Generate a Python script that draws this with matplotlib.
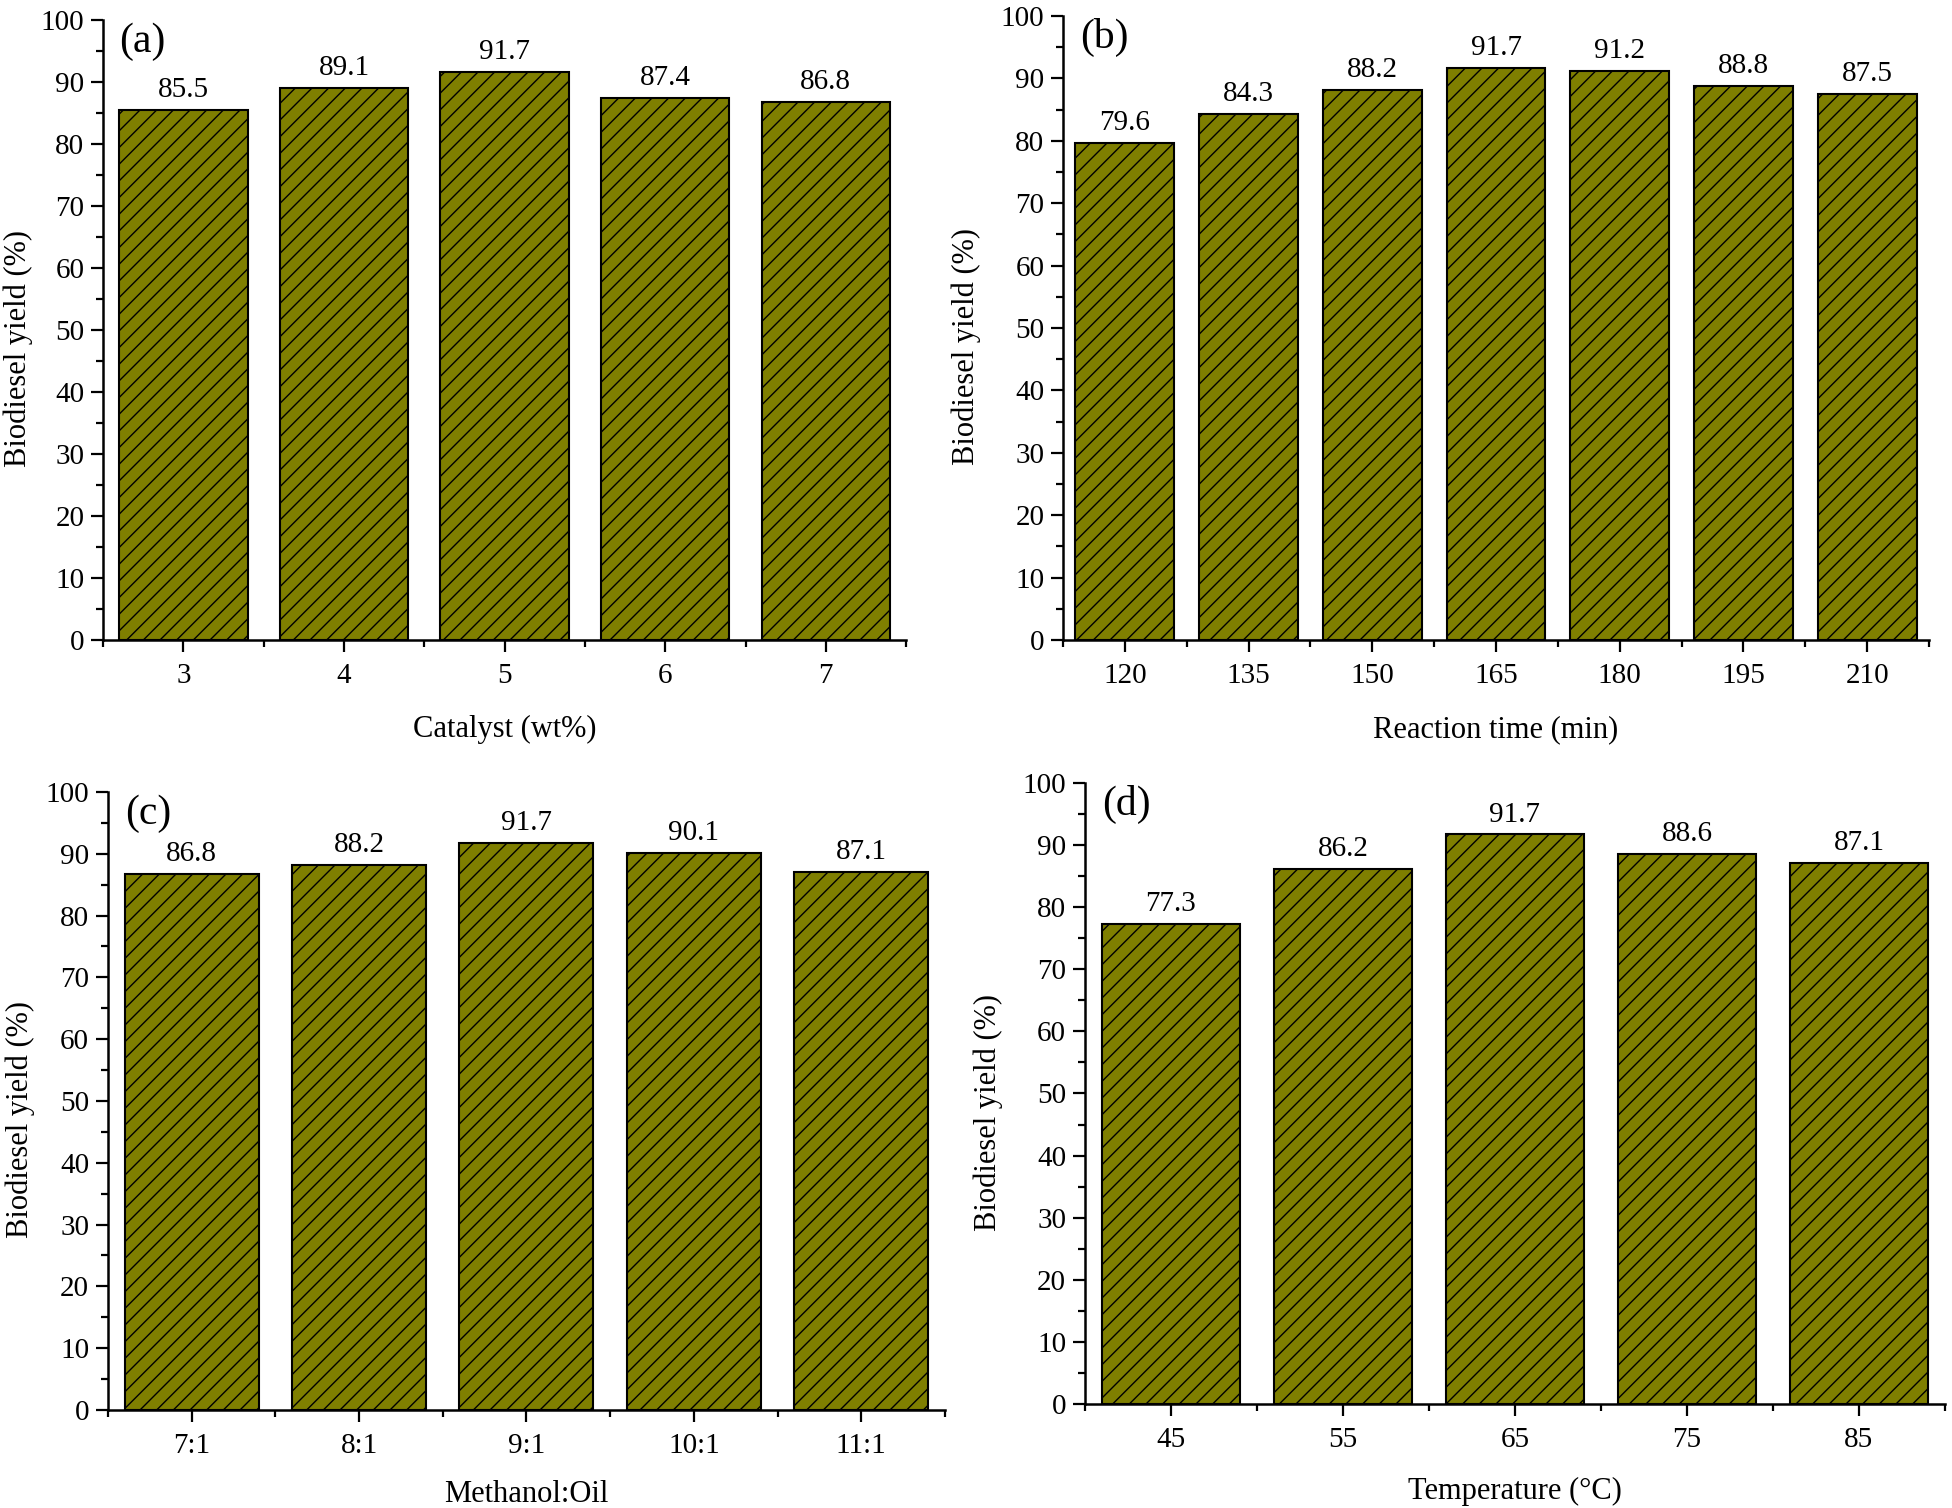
import matplotlib
matplotlib.use("Agg")
import matplotlib.pyplot as plt
from matplotlib.ticker import MultipleLocator, FixedLocator

plt.rcParams['font.family'] = ['Liberation Serif', 'DejaVu Serif']
plt.rcParams['hatch.linewidth'] = 1.0
plt.rcParams['hatch.color'] = 'black'

# data
catalyst = ['3', '4', '5', '6', '7']
catalyst_yield = [85.5, 89.1, 91.7, 87.4, 86.8]

time_min = ['120', '135', '150', '165', '180', '195', '210']
time_yield = [79.6, 84.3, 88.2, 91.7, 91.2, 88.8, 87.5]

ratio = ['7:1', '8:1', '9:1', '10:1', '11:1']
ratio_yield = [86.8, 88.2, 91.7, 90.1, 87.1]

temperature = ['45', '55', '65', '75', '85']
temperature_yield = [77.3, 86.2, 91.7, 88.6, 87.1]

BAR_COLOR = '#7f7f00'


def draw_panel(ax, cats, vals, xlabel, tag, ylab_x, xpad):
    n = len(cats)
    pos = list(range(n))
    ax.bar(pos, vals, width=0.8, color=BAR_COLOR, edgecolor='black',
           linewidth=1.5, hatch='//')
    for p, v in zip(pos, vals):
        ax.annotate('%.1f' % v, (p, v), xytext=(0, 5), textcoords='offset points',
                    ha='center', va='bottom', fontsize=21)

    ax.set_xlim(-0.5, n - 0.5)
    ax.set_ylim(0, 100)
    ax.set_xticks(pos)
    ax.set_xticklabels(cats)
    ax.xaxis.set_minor_locator(FixedLocator([i - 0.5 for i in range(n + 1)]))
    ax.yaxis.set_major_locator(MultipleLocator(10))
    ax.yaxis.set_minor_locator(MultipleLocator(5))

    ax.spines['top'].set_visible(False)
    ax.spines['right'].set_visible(False)
    ax.spines['left'].set_linewidth(1.8)
    ax.spines['bottom'].set_linewidth(1.8)
    ax.tick_params(which='major', direction='out', length=8.5, width=1.6,
                   labelsize=21, pad=5)
    ax.tick_params(axis='x', which='major', pad=8)
    ax.tick_params(which='minor', direction='out', length=5, width=1.6)

    ax.set_xlabel(xlabel, fontsize=22, labelpad=xpad)
    ax.set_ylabel('Biodiesel yield (%)', fontsize=22)
    ax.yaxis.set_label_coords(ylab_x, 0.47)
    ax.text(0.02, 0.965, tag, transform=ax.transAxes, fontsize=30,
            ha='left', va='center')


fig = plt.figure(figsize=(19.52, 15.08), dpi=100)

ax_a = fig.add_axes([0.0528, 0.5756, 0.4114, 0.4111])
ax_b = fig.add_axes([0.5446, 0.5756, 0.4436, 0.4138])
ax_c = fig.add_axes([0.0553, 0.0650, 0.4288, 0.4098])
ax_d = fig.add_axes([0.5558, 0.0690, 0.4406, 0.4118])

draw_panel(ax_a, catalyst, catalyst_yield, 'Catalyst (wt%)', '(a)', -0.087, 19)
draw_panel(ax_b, time_min, time_yield, 'Reaction time (min)', '(b)', -0.095, 19)
draw_panel(ax_c, ratio, ratio_yield, 'Methanol:Oil', '(c)', -0.087, 15)
draw_panel(ax_d, temperature, temperature_yield, 'Temperature (\u00b0C)', '(d)', -0.095, 17)

fig.savefig('out.png', dpi=100)
